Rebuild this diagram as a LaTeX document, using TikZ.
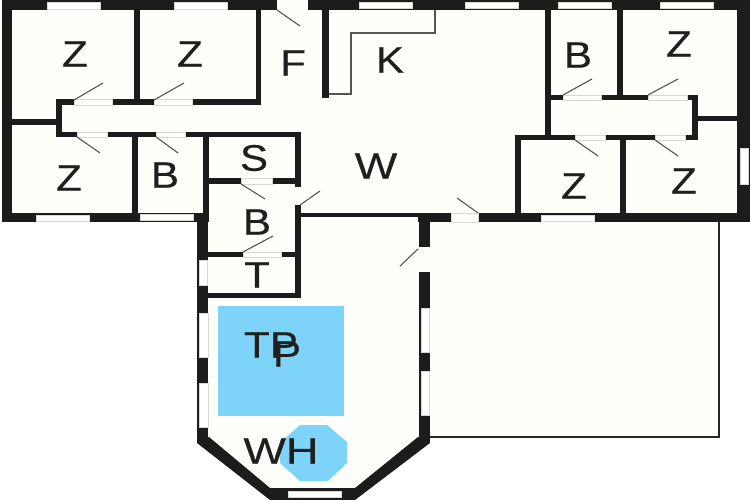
\documentclass[tikz,border=0pt]{standalone}
\usepackage{fontspec}
\setmainfont[FakeBold=0.25]{Liberation Sans}
\definecolor{floor}{HTML}{FEFEFA}
\definecolor{wallc}{HTML}{1C1C1C}
\definecolor{pool}{HTML}{7DD3F8}
\definecolor{leafc}{HTML}{555555}
\definecolor{sillc}{HTML}{D8D8D0}
\tikzset{
  wall/.style={fill=wallc,draw=none},
  win/.style={fill=white,draw=sillc,line width=0.6pt},
  gap/.style={fill=floor,draw=sillc,line width=0.6pt},
  leaf/.style={draw=leafc,line width=1.1pt},
  thin line/.style={draw=leafc,line width=1.6pt},
  lab/.style={font=\fontsize{37}{37}\selectfont,xscale=1.14,text=black!88,inner sep=0pt,anchor=center},
  widelab/.style={lab,xscale=1.07}
}
\begin{document}
\begin{tikzpicture}[x=1pt,y=-1pt]
\useasboundingbox (0,0) rectangle (750,500);
\fill[white] (0,0) rectangle (750,500);
% floor
\fill[floor] (2,0) rectangle (750,222);
\fill[floor] (197,222) -- (430,222) -- (430,443) -- (355,500) -- (270,500) -- (197,443) -- cycle;
\fill[floor] (430,222) rectangle (719,437);
% pool
\fill[pool] (218,306) rectangle (344,416);
\fill[pool] (300,425) -- (327,425) -- (347,442) -- (347,463) -- (328,481) -- (300,481) -- (280,463) -- (280,443) -- cycle;
% outer terrace
\draw[line width=1.8pt,draw=black!85] (430,437) -- (719,437) -- (719,222);
% outer walls west
\fill[wall] (2,0) rectangle (12,222);
\fill[wall] (2,0) rectangle (277,10);
\fill[wall] (308,0) rectangle (750,10);
\fill[wall] (737,0) rectangle (750,222);
\fill[wall] (2,213) rectangle (209,222);
\fill[wall] (478,213) rectangle (750,222);
\fill[wall] (418,213) rectangle (451,222);
\fill[wall] (301,213) rectangle (418,217);
% north rooms
\fill[wall] (134,10) rectangle (140,100);
\fill[wall] (256,10) rectangle (261,105);
\fill[wall] (56,99) rectangle (74,105);
\fill[wall] (112,99) rectangle (154,105);
\fill[wall] (192,99) rectangle (261,105);
\fill[wall] (56,99) rectangle (62,137);
\fill[wall] (12,119) rectangle (56,125);
\fill[wall] (56,132) rectangle (77,137);
\fill[wall] (107,132) rectangle (156,137);
\fill[wall] (185,132) rectangle (301,137);
\fill[wall] (132,137) rectangle (138,213);
\fill[wall] (203,137) rectangle (209,222);
% S and B rooms
\fill[wall] (295,132) rectangle (301,187);
\fill[wall] (209,178) rectangle (241,184);
\fill[wall] (272,178) rectangle (295,184);
\fill[wall] (295,205) rectangle (301,298);
\fill[wall] (208,252) rectangle (243,257);
\fill[wall] (281,252) rectangle (295,257);
\fill[wall] (198,293) rectangle (301,298);
% kitchen
\fill[wall] (322,10) rectangle (329,98);
\draw[thin line] (435,10) -- (435,33) -- (351,33) -- (351,94) -- (329,94);
% east rooms
\fill[wall] (545,10) rectangle (551,135);
\fill[wall] (617,10) rectangle (623,95);
\fill[wall] (551,95) rectangle (563,100);
\fill[wall] (601,95) rectangle (648,100);
\fill[wall] (687,95) rectangle (698,100);
\fill[wall] (692,95) rectangle (698,140);
\fill[wall] (698,116) rectangle (737,121);
\fill[wall] (515,135) rectangle (575,140);
\fill[wall] (605,135) rectangle (655,140);
\fill[wall] (685,135) rectangle (698,140);
\fill[wall] (515,135) rectangle (521,213);
\fill[wall] (620,140) rectangle (626,213);
% wing walls
\fill[wall] (197,222) rectangle (208,443);
\fill[wall] (419,217) rectangle (430,443);
\fill[wall] (197,443) -- (209,437) -- (270,488) -- (355,488) -- (418,437) -- (430,443) -- (355,500) -- (270,500) -- cycle;
% windows
\foreach \a/\b/\c/\d in {47/2/100/9,174/2/227/9,359/2/412/8,465/2/518/8,558/2/611/8,660/2/713/8,
  36/215/89/221,140/214/193/220,541/215/594/221,740/148/748/184,
  199/260/207/285,199/313/208/357,199/383/208/427,421/308/429/352,421/371/429/415,288/491/341/497}
  \path[win] (\a,\b) rectangle (\c,\d);
% door gaps
\fill[floor] (419,247) rectangle (430,272);
\foreach \a/\b/\c/\d in {74/99/112/105,154/99/192/105,77/132/107/137,156/132/185/137,241/178/272/184,
  243/252/281/257,563/95/601/100,648/95/687/100,575/135/605/140,655/135/685/140,451/213/478/222}
  \path[gap] (\a,\b) rectangle (\c,\d);
% door leaves
\draw[leaf] (277,10) -- (300,26);
\draw[leaf] (74,100) -- (103,83);
\draw[leaf] (154,100) -- (184,83);
\draw[leaf] (77,137) -- (100,153);
\draw[leaf] (156,137) -- (178,153);
\draw[leaf] (241,184) -- (265,199);
\draw[leaf] (563,95) -- (592,79);
\draw[leaf] (648,95) -- (678,79);
\draw[leaf] (575,140) -- (598,156);
\draw[leaf] (655,140) -- (678,156);
\draw[leaf] (300,205) -- (320,191);
\draw[leaf] (457,198) -- (478,213);
\draw[leaf] (243,252) -- (273,236);
\draw[leaf] (400,266) -- (418,249);
% labels
\node[lab] (z1) at (75,54) {Z};
\node[lab] (z2) at (190,54) {Z};
\node[lab] (f) at (293,63) {F};
\node[lab] (k) at (390,60) {K};
\node[lab] (b1) at (578,55) {B};
\node[lab] (z3) at (679,44) {Z};
\node[widelab] (w) at (376,166) {W};
\node[lab] (z4) at (69,178) {Z};
\node[lab] (b2) at (165,175) {B};
\node[lab] (s) at (254,158) {S};
\node[lab] (b3) at (257,222) {B};
\node[lab] (t) at (257,275) {T};
\node[lab] (z5) at (574,186) {Z};
\node[lab] (z6) at (684,181) {Z};
\node[lab] (tp) at (271,345) {TP};
\node[lab] (p) at (287,354) {P};
\node[widelab] (wh) at (281,451) {WH};
\end{tikzpicture}
\end{document}
